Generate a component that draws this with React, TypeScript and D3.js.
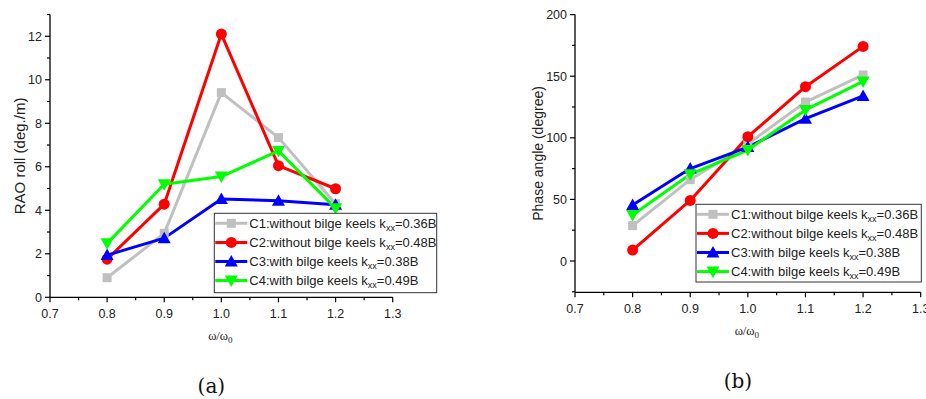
import React from "react";
import * as d3 from "d3";

const xValues = [0.8, 0.9, 1.0, 1.1, 1.2];
const seriesNames = [
  { pre: "C1:without bilge keels k", post: "=0.36B" },
  { pre: "C2:without bilge keels k", post: "=0.48B" },
  { pre: "C3:with bilge keels k", post: "=0.38B" },
  { pre: "C4:with bilge keels k", post: "=0.49B" },
];
const raoC1 = [0.9, 2.94, 9.41, 7.34, 4.3];
const raoC2 = [1.75, 4.28, 12.1, 6.05, 4.99];
const raoC3 = [1.94, 2.72, 4.52, 4.44, 4.25];
const raoC4 = [2.48, 5.2, 5.55, 6.73, 4.09];
const phaseC1 = [28.7, 66, 95, 129, 151];
const phaseC2 = [8.9, 49.2, 100.9, 141.5, 174.2];
const phaseC3 = [45.5, 75, 92.5, 115.5, 134];
const phaseC4 = [37.3, 70.4, 90.1, 122.6, 145.8];
const xTicks = [0.7, 0.8, 0.9, 1.0, 1.1, 1.2, 1.3];
const raoTicks = [0, 2, 4, 6, 8, 10, 12];
const phaseTicks = [0, 50, 100, 150, 200];

const colors = ["#c0c0c0", "#ff0000", "#0000ff", "#00ff00"];
const shapes = ["square", "circle", "up", "down"];
const tickFont = "Liberation Sans, Arial, sans-serif";

function Marker({ shape, x, y, color }: any) {
  if (shape === "square") return <rect x={x - 4.5} y={y - 4.5} width={9} height={9} fill={color} />;
  if (shape === "circle") return <circle cx={x} cy={y} r={5.5} fill={color} />;
  if (shape === "up")
    return <path d={`M${x},${y - 6.5} L${x + 6.5},${y + 5} L${x - 6.5},${y + 5} Z`} fill={color} />;
  return <path d={`M${x},${y + 6.5} L${x + 6.5},${y - 5} L${x - 6.5},${y - 5} Z`} fill={color} />;
}

function Panel({ xRange, yRange, yDomain, yTicks, yMinor, data, yLabel, yLabelX, yLabelSize, legend, panelLabel }: any) {
  const x = d3.scaleLinear().domain([0.7, 1.3]).range(xRange);
  const y = d3.scaleLinear().domain(yDomain).range(yRange);
  const line = d3.line<number>().x((_, i) => x(xValues[i])).y((d) => y(d));
  const xMinor = d3.range(0.75, 1.3, 0.1);
  const x0 = xRange[0];
  const yb = yRange[0];
  return (
    <g>
      {data.map((s: number[], k: number) => (
        <path key={"l" + k} d={line(s) || ""} fill="none" stroke={colors[k]} strokeWidth={3} strokeLinejoin="round" />
      ))}
      {data.map((s: number[], k: number) =>
        s.map((v, i) => <Marker key={k + "-" + i} shape={shapes[k]} x={x(xValues[i])} y={y(v)} color={colors[k]} />)
      )}
      <line x1={x0} x2={xRange[1]} y1={yb} y2={yb} stroke="#000" strokeWidth={1.3} />
      <line x1={x0} x2={x0} y1={yRange[1]} y2={yb} stroke="#000" strokeWidth={1.3} />
      {xTicks.map((t) => (
        <g key={"xt" + t}>
          <line x1={x(t)} x2={x(t)} y1={yb} y2={yb + 5} stroke="#000" strokeWidth={1.2} />
          <text x={x(t)} y={yb + 21} textAnchor="middle" fontFamily={tickFont} fontSize={12.5} fill="#222">
            {t.toFixed(1)}
          </text>
        </g>
      ))}
      {xMinor.map((t) => (
        <line key={"xm" + t} x1={x(t)} x2={x(t)} y1={yb} y2={yb + 3} stroke="#000" strokeWidth={1.2} />
      ))}
      {yTicks.map((t: number) => (
        <g key={"yt" + t}>
          <line x1={x0 - 5} x2={x0} y1={y(t)} y2={y(t)} stroke="#000" strokeWidth={1.2} />
          <text x={x0 - 8} y={y(t) + 4.5} textAnchor="end" fontFamily={tickFont} fontSize={12.5} fill="#222">
            {t}
          </text>
        </g>
      ))}
      {yMinor.map((t: number) => (
        <line key={"ym" + t} x1={x0 - 3} x2={x0} y1={y(t)} y2={y(t)} stroke="#000" strokeWidth={1.2} />
      ))}
      <text
        transform={`translate(${yLabelX},${(yRange[0] + yRange[1]) / 2}) rotate(-90)`}
        textAnchor="middle"
        fontFamily={tickFont}
        fontSize={yLabelSize}
        fill="#222"
      >
        {yLabel}
      </text>
      <text x={(xRange[0] + xRange[1]) / 2 - 1} y={yb + 43} textAnchor="middle" fontFamily="Liberation Serif, Times New Roman, serif" fontSize={12.5} fill="#222">
        ω/ω<tspan fontSize={9} dy={3}>0</tspan>
      </text>
      <text x={(xRange[0] + xRange[1]) / 2 - 10} y={yb + 96} textAnchor="middle" fontFamily="DejaVu Serif, serif" fontSize={20} fill="#111">
        {panelLabel}
      </text>
      <rect x={legend.x} y={legend.y} width={legend.w} height={legend.h} fill="#fff" stroke="#333" strokeWidth={1} />
      {seriesNames.map((s, k) => {
        const ry = legend.y + 10 + k * legend.step;
        return (
          <g key={"lg" + k}>
            <line x1={legend.x + 1} x2={legend.x + 33} y1={ry} y2={ry} stroke={colors[k]} strokeWidth={3} />
            <Marker shape={shapes[k]} x={legend.x + 17} y={ry} color={colors[k]} />
            <text x={legend.x + 35} y={ry + 4.5} fontFamily={tickFont} fontSize={13} fill="#222">
              {s.pre}
              <tspan fontSize={9} dy={3}>xx</tspan>
              <tspan dy={-3}>{s.post}</tspan>
            </text>
          </g>
        );
      })}
    </g>
  );
}

export default function App() {
  return (
    <svg width={926} height={399} style={{ position: "absolute", left: 0, top: 0, background: "#fff" }}>
      <rect width={926} height={399} fill="#fff" />
      <Panel
        xRange={[50, 392.7]}
        yRange={[297.3, 14.5]}
        yDomain={[0, 13]}
        yTicks={raoTicks}
        yMinor={[1, 3, 5, 7, 9, 11, 13]}
        data={[raoC1, raoC2, raoC3, raoC4]}
        yLabel="RAO roll (deg./m)"
        yLabelX={25}
        yLabelSize={15}
        legend={{ x: 214.3, y: 213.3, w: 222.4, h: 79.4, step: 19.1 }}
        panelLabel="(a)"
      />
      <Panel
        xRange={[575, 920.7]}
        yRange={[292.3, 14.6]}
        yDomain={[-25.4, 200]}
        yTicks={phaseTicks}
        yMinor={[-25, 25, 75, 125, 175]}
        data={[phaseC1, phaseC2, phaseC3, phaseC4]}
        yLabel="Phase angle (degree)"
        yLabelX={543}
        yLabelSize={14}
        legend={{ x: 696, y: 204.3, w: 225.3, h: 77.7, step: 19.1 }}
        panelLabel="(b)"
      />
    </svg>
  );
}
